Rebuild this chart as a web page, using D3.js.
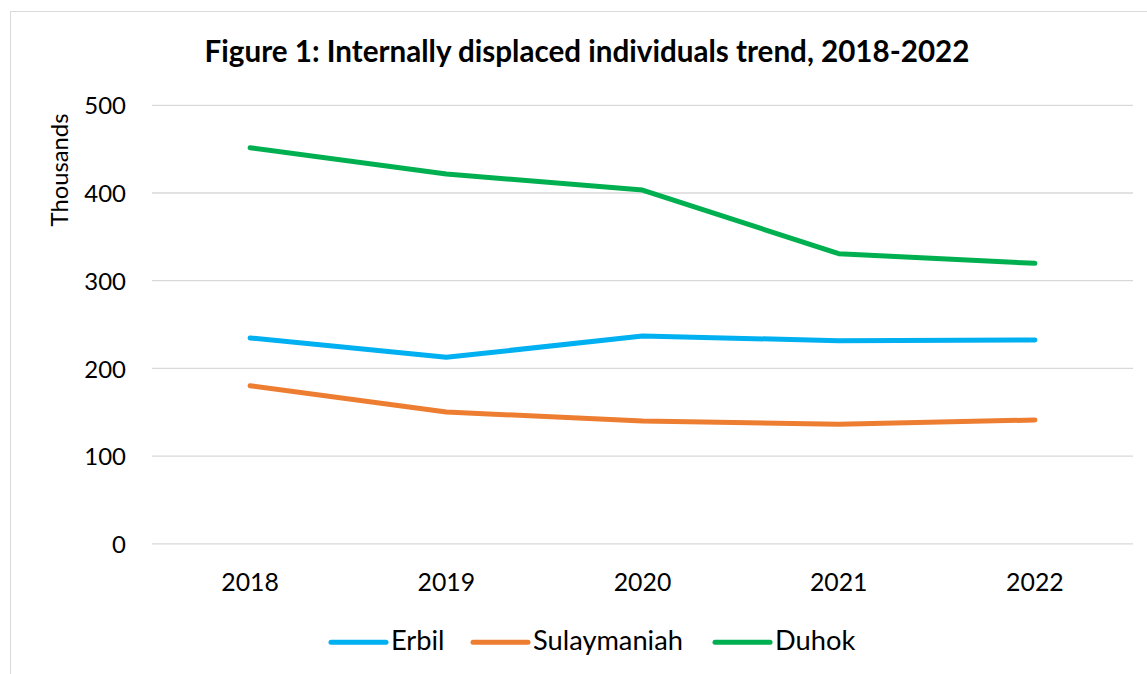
<!DOCTYPE html>
<html><head><meta charset="utf-8">
<script src="https://cdn.jsdelivr.net/npm/d3@7"></script>
<style>body{margin:0;background:#fff;} svg{display:block;font-family:Lato,"Open Sans",sans-serif;}</style>
</head><body>
<svg id="c" width="1147" height="674"></svg>
<script>
const years = ["2018","2019","2020","2021","2022"];
const erbil = [234.7, 212.6, 237.0, 231.6, 232.4];
const sulaymaniah = [180.3, 150.3, 140.0, 136.2, 141.2];
const duhok = [451.6, 421.7, 403.4, 330.8, 319.8];
const yTicks = [0, 100, 200, 300, 400, 500];
const seriesNames = ["Erbil", "Sulaymaniah", "Duhok"];
const seriesColors = ["#00B0F0", "#ED7D31", "#00B050"];
const seriesValues = [erbil, sulaymaniah, duhok];

const svg = d3.select("#c");
function fitSize(sel, target) {
  const n = sel.node();
  const base = 20;
  sel.attr("font-size", base);
  const w = n.getComputedTextLength();
  return base * target / w;
}

svg.append("rect").attr("x",10.5).attr("y",11.5).attr("width",1147).attr("height",700)
  .attr("fill","none").attr("stroke","#d9d9d9").attr("stroke-width",1);

const L=152, R=1133, T=105.3, B=543.8;
const x = d3.scaleBand().domain(years).range([L,R]);
const y = d3.scaleLinear().domain([0,500]).range([B,T]);

svg.append("g").selectAll("line").data(yTicks).join("line")
  .attr("x1",L).attr("x2",R).attr("y1",d=>y(d)).attr("y2",d=>y(d))
  .attr("stroke","#d9d9d9").attr("stroke-width",1.3);

const yAxis = svg.append("g").attr("transform",`translate(${L},0)`)
  .call(d3.axisLeft(y).tickValues(yTicks).tickSize(0).tickPadding(26));
yAxis.select(".domain").remove();
const yl = yAxis.selectAll("text").attr("fill","#000").attr("font-family","Lato,sans-serif");
const ySize = fitSize(yAxis.selectAll("text").filter(d=>d===500), 41.7);
yl.attr("font-size", ySize).attr("dy","0.36em");

const xAxis = svg.append("g").attr("transform",`translate(0,${B})`)
  .call(d3.axisBottom(x).tickSize(0).tickPadding(0));
xAxis.select(".domain").remove();
const xl = xAxis.selectAll("text").attr("fill","#000").attr("font-family","Lato,sans-serif");
const xSize = fitSize(xAxis.selectAll("text").filter(d=>d==="2018"), 57.6);
xl.attr("font-size", xSize).attr("dy",null).attr("y", 591 - B);

const line = d3.line().x((d,i)=>x(years[i])+x.bandwidth()/2).y(d=>y(d));
seriesValues.forEach((vals,i)=>{
  svg.append("path").datum(vals).attr("d",line).attr("fill","none")
    .attr("stroke",seriesColors[i]).attr("stroke-width",5).attr("stroke-linecap","round").attr("stroke-linejoin","round");
});

const title = svg.append("text").attr("x",587).attr("y",62).attr("text-anchor","middle")
  .attr("font-weight","bold").attr("fill","#000")
  .text("Figure 1: Internally displaced individuals trend, 2018-2022");
title.attr("font-size", fitSize(title, 765));

const yt = svg.append("text").attr("transform","translate(68,170) rotate(-90)").attr("text-anchor","middle")
  .attr("fill","#000").text("Thousands");
yt.attr("font-size", fitSize(yt, 113));

const legX = [331, 473, 715];
const legTextX = [391, 533, 775];
const leg = svg.append("g");
const legTexts = [];
seriesNames.forEach((n,i)=>{
  leg.append("line").attr("x1",legX[i]).attr("x2",legX[i]+55).attr("y1",642.3).attr("y2",642.3)
    .attr("stroke",seriesColors[i]).attr("stroke-width",5).attr("stroke-linecap","round");
  legTexts.push(leg.append("text").attr("x",legTextX[i]).attr("y",650).attr("fill","#000").text(n));
});
const lSize = fitSize(legTexts[1], 150);
legTexts.forEach(t=>t.attr("font-size", lSize));
</script>
</body></html>
